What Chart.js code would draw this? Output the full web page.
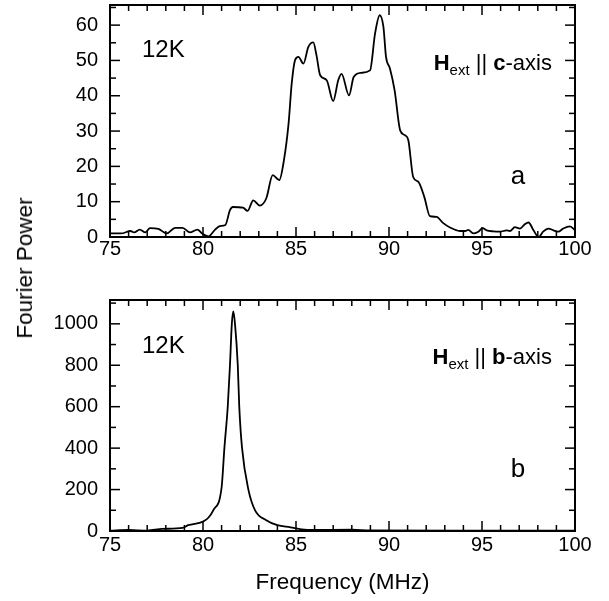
<!DOCTYPE html>
<html>
<head>
<meta charset="utf-8">
<script src="https://cdn.jsdelivr.net/npm/chart.js@4.4.0/dist/chart.umd.min.js"></script>
<style>
  html, body { margin: 0; padding: 0; background: #fff; }
  #wrap { position: relative; width: 609px; height: 601px; }
  #yTitle {
    position: absolute; left: 25px; top: 268px;
    transform: translate(-50%, -50%) rotate(-90deg);
    font: 22.5px 'Liberation Sans', Arial, sans-serif; color: #000; white-space: nowrap;
  }
</style>
</head>
<body>
<div id="wrap">
  <canvas id="topChart" width="609" height="270" style="position:absolute;left:0;top:0"></canvas>
  <canvas id="botChart" width="609" height="331" style="position:absolute;left:0;top:270px"></canvas>
  <div id="yTitle">Fourier Power</div>
</div>
<script>
// axis ticks
var xTicks = [75, 80, 85, 90, 95, 100];
var xMinorTicks = [76, 77, 78, 79, 81, 82, 83, 84, 86, 87, 88, 89, 91, 92, 93, 94, 96, 97, 98, 99];
var topYTicks = [0, 10, 20, 30, 40, 50, 60];
var topYMinor = [5, 15, 25, 35, 45, 55, 65];
var botYTicks = [0, 200, 400, 600, 800, 1000];
var botYMinor = [100, 300, 500, 700, 900, 1100];

// panel a: H || c-axis
var topFreq = [75.0, 75.6, 76.1, 76.3, 76.6, 76.9, 77.15, 77.6, 78.05, 78.5, 78.9, 79.3, 79.7, 79.95,
  80.3, 80.65, 80.9, 81.2, 81.45, 81.6, 82.15, 82.4, 82.7, 83.05, 83.4, 83.75, 84.1, 84.35, 84.6,
  84.77, 84.95, 85.13, 85.4, 85.66, 85.93, 86.1, 86.3, 86.65, 87.0, 87.27, 87.45, 87.85, 88.1, 88.5,
  88.98, 89.25, 89.5, 89.7, 89.84, 90.05, 90.3, 90.6, 90.86, 91.04, 91.3, 91.58, 91.9, 92.2, 92.56,
  92.9, 93.28, 93.8, 94.1, 94.26, 94.53, 94.8, 95.03, 95.25, 95.6, 95.97, 96.32, 96.5, 96.77, 97.04,
  97.3, 97.5, 97.77, 98.04, 98.3, 98.57, 98.84, 99.1, 99.37, 99.73, 100.0];
var topPower = [1.0, 1.0, 1.7, 1.3, 2.1, 1.3, 2.5, 2.3, 1.0, 2.6, 2.6, 1.3, 2.1, 1.0,
  0.2, 2.1, 3.1, 3.4, 7.6, 8.5, 8.3, 7.4, 10.4, 8.9, 10.9, 17.5, 16.1, 21.7, 32.1,
  43.5, 50.1, 51.0, 49.1, 53.8, 55.1, 51.5, 45.8, 44.4, 38.5, 44.4, 46.2, 40.1, 45.3, 46.5,
  47.2, 57.6, 62.8, 59.5, 51.0, 47.7, 41.6, 30.2, 28.8, 27.4, 17.0, 15.6, 11.3, 5.9, 5.7,
  4.0, 2.7, 1.7, 1.7, 2.0, 1.0, 1.5, 2.5, 1.9, 1.6, 1.5, 1.9, 1.7, 2.8, 2.4,
  3.6, 4.1, 1.9, 0.0, 1.6, 2.4, 1.9, 1.5, 2.4, 3.0, 1.9];

// panel b: H || b-axis
var botFreq = [75.0, 76.0, 77.0, 77.8, 78.9, 79.2, 80.0, 80.3, 80.55, 81.0, 81.15, 81.33, 81.45, 81.55,
  81.63, 81.72, 81.87, 81.95, 82.1, 82.44, 82.8, 83.4, 84.0, 84.7, 85.3, 86.0, 88.0, 89.0, 95.0, 100.0];
var botPower = [2, 5, 2, 10, 15, 28, 45, 65, 100, 210, 400, 600, 800, 1000,
  1060, 1000, 800, 600, 400, 200, 100, 52, 28, 18, 8, 5, 6, 3, 2, 2];

var FONT = "'Liberation Sans', Arial, sans-serif";

function toPoints(xs, ys) {
  return xs.map(function(x, i) { return { x: x, y: ys[i] }; });
}

// inward ticks on all four sides plus the frame
var frameTicks = {
  id: 'frameTicks',
  afterDraw: function(chart, args, opts) {
    var ctx = chart.ctx, a = chart.chartArea;
    var sx = chart.scales.x, sy = chart.scales.y;
    ctx.save();
    ctx.strokeStyle = '#000';
    ctx.lineWidth = 1.5;
    function seg(x1, y1, x2, y2) {
      ctx.beginPath(); ctx.moveTo(x1, y1); ctx.lineTo(x2, y2); ctx.stroke();
    }
    function xt(v, len) {
      var p = sx.getPixelForValue(v);
      seg(p, a.bottom, p, a.bottom - len);
      seg(p, a.top, p, a.top + len);
    }
    function yt(v, len) {
      if (v > sy.max) return;
      var p = sy.getPixelForValue(v);
      seg(a.left, p, a.left + len, p);
      seg(a.right, p, a.right - len, p);
    }
    xTicks.forEach(function(v) { xt(v, 10); });
    xMinorTicks.forEach(function(v) { xt(v, 6); });
    opts.major.forEach(function(v) { yt(v, 10); });
    opts.minor.forEach(function(v) { yt(v, 6); });
    ctx.lineWidth = 2;
    ctx.strokeRect(a.left, a.top, a.right - a.left, a.bottom - a.top);
    ctx.restore();
  }
};

// panel annotations, placed in data coordinates
var notes = {
  id: 'notes',
  afterDraw: function(chart, args, opts) {
    var ctx = chart.ctx, sx = chart.scales.x, sy = chart.scales.y;
    ctx.save();
    ctx.fillStyle = '#000';
    ctx.textBaseline = 'middle';
    ctx.textAlign = 'left';
    ctx.font = '24px ' + FONT;
    ctx.fillText('12K', sx.getPixelForValue(opts.temp[0]), sy.getPixelForValue(opts.temp[1]));
    ctx.textAlign = 'center';
    ctx.font = '26px ' + FONT;
    ctx.fillText(opts.letter, sx.getPixelForValue(opts.letterAt[0]), sy.getPixelForValue(opts.letterAt[1]));

    // H_ext || c-axis
    var parts = [
      { t: 'H', f: 'bold 22px ' + FONT, dy: 0 },
      { t: 'ext', f: '15px ' + FONT, dy: 5 },
      { t: ' || ', f: '22px ' + FONT, dy: 0 },
      { t: opts.axis, f: 'bold 22px ' + FONT, dy: 0 },
      { t: '-axis', f: '22px ' + FONT, dy: 0 }
    ];
    var total = 0;
    parts.forEach(function(p) { ctx.font = p.f; p.w = ctx.measureText(p.t).width; total += p.w; });
    var x = sx.getPixelForValue(opts.fieldRight) - total;
    var y = sy.getPixelForValue(opts.fieldBase);
    ctx.textAlign = 'left';
    ctx.textBaseline = 'alphabetic';
    parts.forEach(function(p) { ctx.font = p.f; ctx.fillText(p.t, x, y + p.dy); x += p.w; });
    ctx.restore();
  }
};

function plainLabel(v) { return String(v); }

function makePanel(id, pts, cfg) {
  return new Chart(document.getElementById(id), {
    type: 'line',
    data: {
      datasets: [{
        data: pts,
        borderColor: '#000',
        borderWidth: 1.8,
        pointRadius: 0,
        fill: false,
        cubicInterpolationMode: 'monotone'
      }]
    },
    options: {
      responsive: false,
      animation: false,
      events: [],
      layout: { padding: { top: cfg.padTop, right: 34, left: 0, bottom: 0 } },
      plugins: {
        legend: { display: false },
        tooltip: { enabled: false },
        frameTicks: { major: cfg.yTicks, minor: cfg.yMinor },
        notes: cfg.notes
      },
      scales: {
        x: {
          type: 'linear', min: 75, max: 100,
          afterBuildTicks: function(s) { s.ticks = xTicks.map(function(v) { return { value: v }; }); },
          afterFit: function(s) { s.height = cfg.xHeight; s.paddingLeft = 0; s.paddingRight = 0; },
          grid: { display: false, drawTicks: false },
          border: { display: false },
          ticks: { color: '#000', font: { family: FONT, size: 20 }, padding: cfg.xPad, maxRotation: 0, autoSkip: false, callback: plainLabel },
          title: cfg.xTitle
        },
        y: {
          type: 'linear', min: 0, max: cfg.yMax,
          afterBuildTicks: function(s) { s.ticks = cfg.yTicks.map(function(v) { return { value: v }; }); },
          afterFit: function(s) { s.width = 110; s.paddingTop = 0; s.paddingBottom = 0; },
          grid: { display: false, drawTicks: false },
          border: { display: false },
          ticks: { color: '#000', font: { family: FONT, size: 20 }, padding: 12, autoSkip: false, callback: plainLabel }
        }
      }
    },
    plugins: [frameTicks, notes]
  });
}

makePanel('topChart', toPoints(topFreq, topPower), {
  padTop: 5, xHeight: 33, xPad: 0, yMax: 65.7,
  yTicks: topYTicks, yMinor: topYMinor,
  xTitle: { display: false },
  notes: { temp: [76.72, 52.9], letter: 'a', letterAt: [96.94, 16.9], axis: 'c', fieldRight: 98.76, fieldBase: 47.2 }
});

makePanel('botChart', toPoints(botFreq, botPower), {
  padTop: 30, xHeight: 70, xPad: 2, yMax: 1115,
  yTicks: botYTicks, yMinor: botYMinor,
  xTitle: { display: true, text: 'Frequency (MHz)', color: '#000', font: { family: FONT, size: 22.5 }, padding: { top: 0, bottom: 5 } },
  notes: { temp: [76.72, 893], letter: 'b', letterAt: [96.94, 295], axis: 'b', fieldRight: 98.76, fieldBase: 805 }
});
</script>
</body>
</html>
